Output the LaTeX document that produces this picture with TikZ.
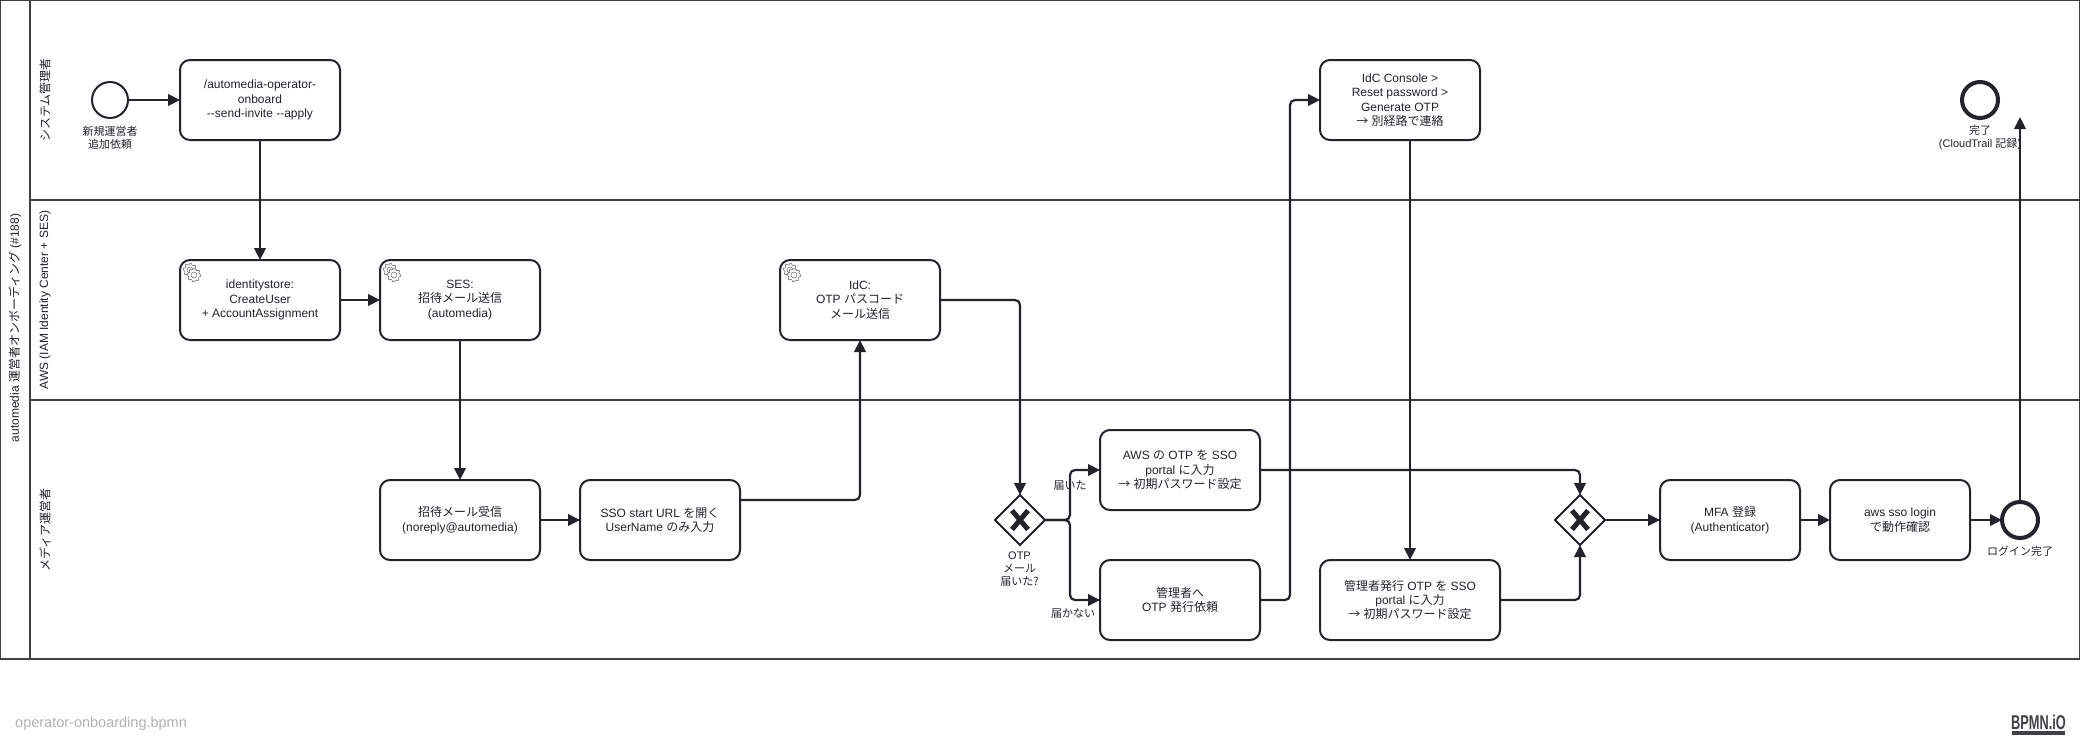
\documentclass[tikz,border=0pt]{standalone}
\usepackage{fontspec}
\setmainfont{Liberation Sans}
\newfontfamily\cjkfont{Noto Sans CJK JP}
\newcommand{\jp}[1]{{\cjkfont #1}}
\usetikzlibrary{arrows.meta,shapes.geometric}
\definecolor{ink}{HTML}{22242A}
\definecolor{lanecol}{HTML}{404045}
\definecolor{gearcol}{HTML}{55565A}
\tikzset{
  taskbox/.style={draw=ink,line width=2pt,rounded corners=10pt,fill=white,minimum width=160pt,minimum height=80pt,inner sep=0pt,outer sep=0pt,align=center,text=ink,font=\fontsize{12}{14.4}\selectfont},
  startev/.style={circle,draw=ink,line width=2pt,fill=white,minimum size=36pt,inner sep=0pt,outer sep=0pt},
  endev/.style={circle,draw=ink,line width=4pt,fill=white,minimum size=36pt,inner sep=0pt,outer sep=0pt},
  gate/.style={diamond,draw=ink,line width=2pt,fill=white,minimum width=50pt,minimum height=50pt,inner sep=0pt,outer sep=0pt},
  gatex/.style={draw=ink,line width=5pt},
  flow/.style={draw=ink,line width=2.2pt,rounded corners=5pt,-{Triangle[length=12pt,width=11.5pt]}},
  lanetxt/.style={rotate=90,inner sep=0pt,align=center,text=ink,font=\fontsize{12}{14.4}\selectfont},
  evlabel/.style={inner sep=0pt,align=center,text=ink,font=\fontsize{11}{13}\selectfont},
  laneline/.style={draw=lanecol,line width=2pt},
  gearline/.style={draw=gearcol,line width=0.5pt,dash pattern=on 1pt off 0.4pt,fill=white}
}
\newcommand{\gearmark}[1]{%
  \begin{scope}[shift={(#1.north west)}]
    \foreach \gx/\gy in {10/10,14/15}{
      \begin{scope}[shift={(\gx,\gy)}]
        \draw[gearline] plot[domain=0:348.75,samples=32] (\x:{5.4+(mod(\x+1,45)<22.5?1.4:0)}) -- cycle;
        \draw[gearline] (0,0) circle[radius=3];
      \end{scope}
    }
  \end{scope}}
\begin{document}
\begin{tikzpicture}[x=1pt,y=-1pt]
\useasboundingbox (0,0) rectangle (2080,750);
\fill[white] (0,0) rectangle (2080,750);
% lanes
\draw[laneline] (0,0) rectangle (2080,659);
\draw[laneline] (30,0) -- (30,659);
\draw[laneline] (30,200) -- (2080,200);
\draw[laneline] (30,400) -- (2080,400);
\node[lanetxt] (pooltxt) at (15,328) {automedia \jp{運営者オンボーディング} (\#188)};
\node[lanetxt] (lane1) at (45,100) {\jp{システム管理者}};
\node[lanetxt] (lane2) at (45,300) {AWS (IAM Identity Center + SES)};
\node[lanetxt] (lane3) at (45,530) {\jp{メディア運営者}};
% events
\node[startev] (start) at (110,100) {};
\node[evlabel] (startl) at (110,137.5) {\jp{新規運営者}\\\jp{追加依頼}};
\node[endev] (done) at (1980,100) {};
\node[evlabel] (donel) at (1980,137.5) {\jp{完了}\\(CloudTrail \jp{記録})};
\node[endev] (login) at (2020,520) {};
\node[evlabel] (loginl) at (2020,551) {\jp{ログイン完了}};
\coordinate (upend) at (2020,117);
% tasks
\node[taskbox] (cmd) at (260,100) {/automedia-operator-\\onboard\\-{}-send-invite -{}-apply};
\node[taskbox] (store) at (260,300) {identitystore:\\CreateUser\\+ AccountAssignment};
\node[taskbox] (ses) at (460,300) {SES:\\\jp{招待メール送信}\\(automedia)};
\node[taskbox] (idc) at (860,300) {IdC:\\OTP \jp{パスコード}\\\jp{メール送信}};
\node[taskbox] (recv) at (460,520) {\jp{招待メール受信}\\(noreply@automedia)};
\node[taskbox] (url) at (660,520) {SSO start URL \jp{を開く}\\UserName \jp{のみ入力}};
\node[taskbox] (awsotp) at (1180,470) {AWS \jp{の} OTP \jp{を} SSO\\portal \jp{に入力}\\\jp{→} \jp{初期パスワード設定}};
\node[taskbox] (ask) at (1180,600) {\jp{管理者へ}\\OTP \jp{発行依頼}};
\node[taskbox] (console) at (1400,100) {IdC Console >\\Reset password >\\Generate OTP\\\jp{→} \jp{別経路で連絡}};
\node[taskbox,minimum width=180pt] (admotp) at (1410,600) {\jp{管理者発行} OTP \jp{を} SSO\\portal \jp{に入力}\\\jp{→} \jp{初期パスワード設定}};
\node[taskbox,minimum width=140pt] (mfa) at (1730,520) {MFA \jp{登録}\\(Authenticator)};
\node[taskbox,minimum width=140pt] (cli) at (1900,520) {aws sso login\\\jp{で動作確認}};
% gateways
\node[gate] (gw) at (1020,520) {};
\node[gate] (gwb) at (1580,520) {};
\node[evlabel] (gwl) at (1019.5,569) {OTP\\\jp{メール}\\\jp{届いた?}};
\node[evlabel] (yes) at (1070,486) {\jp{届いた}};
\node[evlabel] (no) at (1073,614) {\jp{届かない}};
% connectors
\draw[flow] (start.east) -- (cmd.west);
\draw[flow] (cmd.south) -- (store.north);
\draw[flow] (store.east) -- (ses.west);
\draw[flow] (ses.south) -- (recv.north);
\draw[flow] (recv.east) -- (url.west);
\draw[flow] ([yshift=20pt]url.east) -| (idc.south);
\draw[flow] (idc.east) -| (gw.north);
\draw[flow] (gw.east) -- ++(25,0) |- (awsotp.west);
\draw[flow] (gw.east) -- ++(25,0) |- (ask.west);
\draw[flow] (ask.east) -- ++(30,0) |- (console.west);
\draw[flow] (console.south -| admotp.north) -- (admotp.north);
\draw[flow] (awsotp.east) -| (gwb.north);
\draw[flow] (admotp.east) -| (gwb.south);
\draw[flow] (gwb.east) -- (mfa.west);
\draw[flow] (mfa.east) -- (cli.west);
\draw[flow] (cli.east) -- (login.west);
\draw[flow] (login.north) -- (upend);
% gateway markers
\draw[gatex] (gw.center) ++(-8,-9.5) -- ++(16,19);
\draw[gatex] (gw.center) ++(8,-9.5) -- ++(-16,19);
\draw[gatex] (gwb.center) ++(-8,-9.5) -- ++(16,19);
\draw[gatex] (gwb.center) ++(8,-9.5) -- ++(-16,19);
\gearmark{store}
\gearmark{ses}
\gearmark{idc}
% footer
\node[anchor=west,inner sep=0pt,text=black!30,font=\fontsize{14.5}{16}\selectfont] (fname) at (15,723.5) {operator-onboarding.bpmn};
\node[anchor=center,inner sep=0pt,text=lanecol,xscale=0.64,font=\fontsize{20}{20}\bfseries\selectfont] (logo) at (2038.5,722.5) {BPMN.iO};
\fill[lanecol] (2012,731) rectangle (2065,735);
\end{tikzpicture}
\end{document}
